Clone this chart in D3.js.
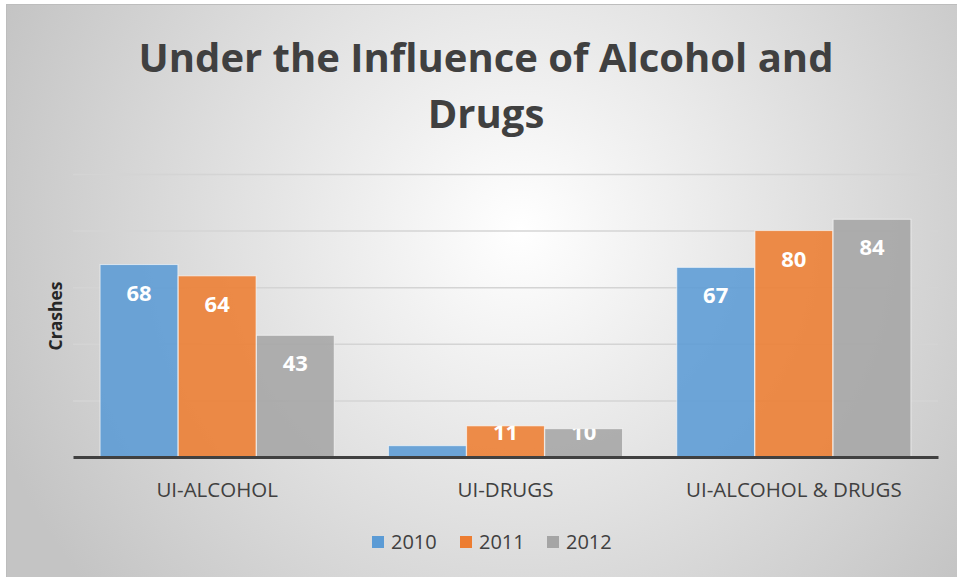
<!DOCTYPE html>
<html>
<head>
<meta charset="utf-8">
<script src="https://cdn.jsdelivr.net/npm/d3@7"></script>
<style>
  body { margin: 0; background: #fff; }
  svg { display: block; }
  text { font-family: "Open Sans", "Noto Sans", sans-serif; }
</style>
</head>
<body>
<div id="chart"></div>
<script>
const categories = ["UI-ALCOHOL", "UI-DRUGS", "UI-ALCOHOL & DRUGS"];
const years = ["2010", "2011", "2012"];
const values2010 = [68, 4, 67];
const values2011 = [64, 11, 80];
const values2012 = [43, 10, 84];
const showLabel2010 = [true, false, true];
const colors = ["#5b9bd5", "#ed7d31", "#a5a5a5"];
const yTicks = [0, 20, 40, 60, 80, 100];

const W = 957, H = 577;
const dims = { left: 73, right: 19, top: 174, bottom: 120 };
const plotW = W - dims.left - dims.right;
const plotH = H - dims.top - dims.bottom;

const svg = d3.select("#chart").append("svg")
  .attr("width", W).attr("height", H);

const defs = svg.append("defs");
const grad = defs.append("radialGradient")
  .attr("id", "bg")
  .attr("gradientUnits", "userSpaceOnUse")
  .attr("cx", 520).attr("cy", 230).attr("r", 560);
grad.append("stop").attr("offset", "0%").attr("stop-color", "#ffffff");
grad.append("stop").attr("offset", "100%").attr("stop-color", "#c4c4c4");

svg.append("rect")
  .attr("x", 6.5).attr("y", 4.5)
  .attr("width", W).attr("height", H)
  .attr("fill", "url(#bg)")
  .attr("stroke", "#bdbdbd").attr("stroke-width", 1);

// title
const title = svg.append("text")
  .attr("text-anchor", "middle")
  .attr("fill", "#404040")
  .attr("font-weight", "bold")
  .attr("font-size", 40);
title.append("tspan").attr("x", 486).attr("y", 72).text("Under the Influence of Alcohol and");
title.append("tspan").attr("x", 486).attr("y", 128).text("Drugs");

const chartG = svg.append("g")
  .attr("transform", `translate(${dims.left},${dims.top})`);

const x0 = d3.scaleBand().domain(categories).range([0, plotW]);
const x1 = d3.scaleBand().domain(years)
  .range([x0.bandwidth() * 0.094, x0.bandwidth() * 0.906]).paddingInner(0.005);
const y = d3.scaleLinear().domain([0, 100]).range([plotH, 0]);

// gridlines
chartG.append("g")
  .call(d3.axisLeft(y).tickValues(yTicks.slice(1)).tickSize(-plotW).tickFormat(""))
  .call(g => g.select(".domain").remove())
  .call(g => g.selectAll("line").attr("stroke", "#d4d4d4").attr("stroke-width", 1.5));

const series = [values2010, values2011, values2012];
const rows = categories.map((c, i) => ({
  cat: c,
  bars: years.map((yr, j) => ({
    year: yr, value: series[j][i], color: colors[j],
    label: j === 0 ? showLabel2010[i] : true
  }))
}));

// labels are clipped to their bars, like the inside-end labels of the original
const clip = defs.append("clipPath").attr("id", "barclip");
rows.forEach(r => r.bars.forEach(b => {
  clip.append("rect")
    .attr("x", x0(r.cat) + x1(b.year))
    .attr("y", y(b.value))
    .attr("width", x1.bandwidth())
    .attr("height", plotH - y(b.value));
}));

const groups = chartG.selectAll("g.cat").data(rows).join("g")
  .attr("class", "cat")
  .attr("transform", d => `translate(${x0(d.cat)},0)`);

groups.selectAll("rect").data(d => d.bars).join("rect")
  .attr("x", d => x1(d.year))
  .attr("y", d => y(d.value))
  .attr("width", x1.bandwidth())
  .attr("height", d => plotH - y(d.value))
  .attr("fill", d => d.color)
  .attr("fill-opacity", 0.88)
  .attr("stroke", "#ffffff")
  .attr("stroke-opacity", 0.6)
  .attr("stroke-width", 1);

const labelG = chartG.append("g").attr("clip-path", "url(#barclip)");
rows.forEach(r => {
  labelG.selectAll(null).data(r.bars.filter(b => b.label)).join("text")
    .attr("x", d => x0(r.cat) + x1(d.year) + x1.bandwidth() / 2)
    .attr("y", d => Math.min(y(d.value) + 36, plotH - 17))
    .attr("text-anchor", "middle")
    .attr("fill", "#ffffff")
    .attr("font-weight", "bold")
    .attr("font-size", 22)
    .text(d => d.value);
});

// baseline + category axis
const xAxis = chartG.append("g")
  .attr("transform", `translate(0,${plotH})`)
  .call(d3.axisBottom(x0).tickSize(0).tickPadding(25));
xAxis.select(".domain").attr("stroke", "#404040").attr("stroke-width", 3);
xAxis.selectAll("text")
  .attr("fill", "#404040")
  .attr("font-size", 20.5)
  .style("font-family", "'Open Sans', sans-serif");

// y axis title
svg.append("text")
  .attr("transform", "translate(62,316) rotate(-90)")
  .attr("text-anchor", "middle")
  .attr("fill", "#262626")
  .attr("font-weight", "bold")
  .attr("font-size", 17.5)
  .text("Crashes");

// legend
const legendX = [372, 460, 547];
const legend = svg.append("g").selectAll("g").data(years).join("g")
  .attr("transform", (d, i) => `translate(${legendX[i]},542)`);
legend.append("rect")
  .attr("x", 0).attr("y", -6).attr("width", 12).attr("height", 12)
  .attr("fill", (d, i) => colors[i]);
legend.append("text")
  .attr("x", 19).attr("y", 7)
  .attr("fill", "#404040")
  .attr("font-size", 20)
  .text(d => d);
</script>
</body>
</html>
